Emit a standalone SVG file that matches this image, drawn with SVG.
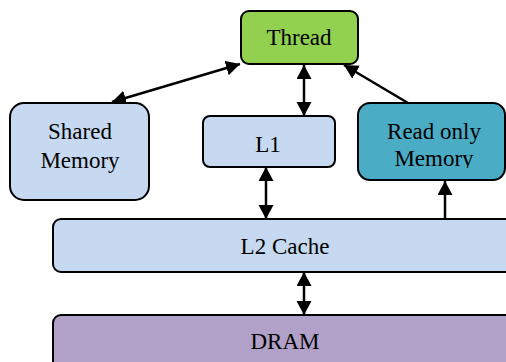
<svg xmlns="http://www.w3.org/2000/svg" width="506" height="362" viewBox="0 0 506 362">
  <style>
    .box { stroke: #000; stroke-width: 2; }
    .lbl { font-family: "Liberation Serif", "Times New Roman", serif; font-size: 23px; fill: #000; text-anchor: middle; }
    .edge { stroke: #000; stroke-width: 2.5; fill: none; marker-end: url(#head); }
    .both { marker-start: url(#head); }
  </style>
  <defs>
    <marker id="head" markerUnits="userSpaceOnUse" markerWidth="16" markerHeight="16" refX="14" refY="7.5" orient="auto-start-reverse">
      <path d="M0,0 L14,7.5 L0,15 Z" fill="#000"/>
    </marker>
    <clipPath id="rom-clip">
      <rect x="358" y="104" width="150" height="64"/>
    </clipPath>
  </defs>

  <g id="connectors">
    <line class="edge both" x1="240" y1="64" x2="112" y2="102"/>
    <line class="edge both" x1="304" y1="65" x2="304" y2="116"/>
    <line class="edge" x1="408" y1="103" x2="344" y2="65"/>
    <line class="edge both" x1="266" y1="167" x2="266" y2="219"/>
    <line class="edge" x1="445" y1="219" x2="445" y2="181"/>
    <line class="edge both" x1="304" y1="272" x2="304" y2="315"/>
  </g>

  <g id="thread">
    <rect class="box" x="241" y="11" width="117" height="53" rx="8" fill="#92d050"/>
    <text class="lbl" x="299" y="45">Thread</text>
  </g>

  <g id="shared-memory">
    <rect class="box" x="10" y="103" width="139" height="97" rx="14" fill="#c6d9f1"/>
    <text class="lbl" x="80" y="139">Shared</text>
    <text class="lbl" x="80" y="168">Memory</text>
  </g>

  <g id="l1">
    <rect class="box" x="203" y="116" width="132" height="51" rx="7" fill="#c6d9f1"/>
    <text class="lbl" x="268" y="152">L1</text>
  </g>

  <g id="read-only-memory">
    <rect class="box" x="358" y="103" width="147" height="77" rx="12" fill="#4bacc6"/>
    <g clip-path="url(#rom-clip)">
      <text class="lbl" x="434" y="139">Read only</text>
      <text class="lbl" x="434" y="166">Memory</text>
    </g>
  </g>

  <g id="l2-cache">
    <rect class="box" x="53" y="219" width="470" height="53" rx="8" fill="#c6d9f1"/>
    <text class="lbl" x="285" y="254">L2 Cache</text>
  </g>

  <g id="dram">
    <rect class="box" x="53" y="315" width="470" height="60" rx="8" fill="#b1a0c7"/>
    <text class="lbl" x="285" y="349">DRAM</text>
  </g>
</svg>
